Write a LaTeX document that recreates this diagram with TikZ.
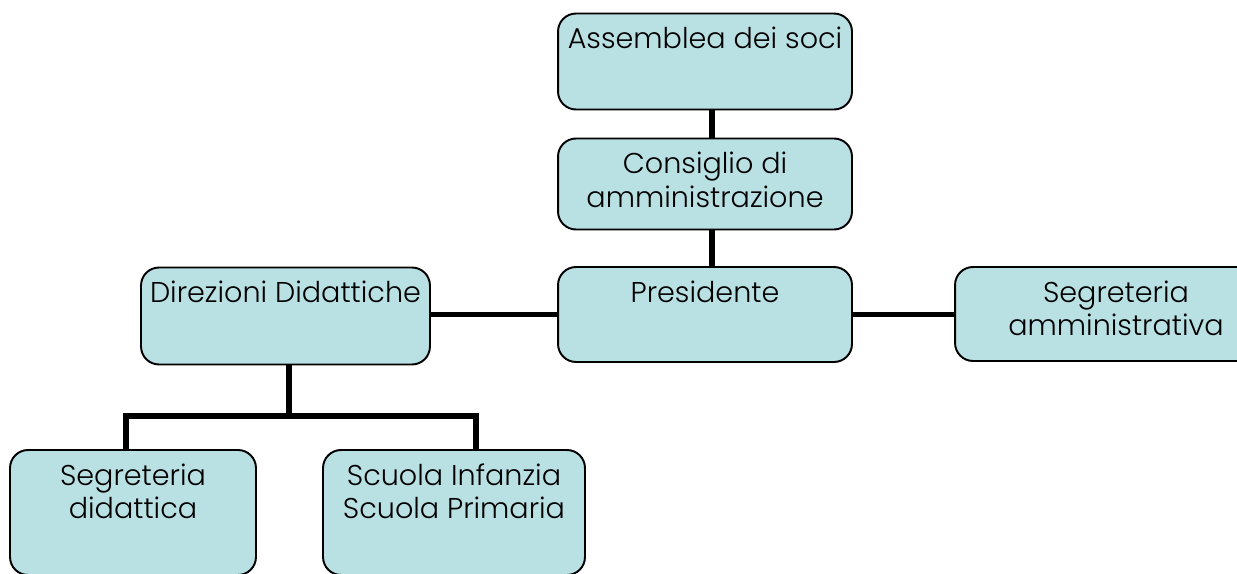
\documentclass[tikz,border=0pt]{standalone}
\usepackage{fontspec}
\IfFontExistsTF{Poppins Light}{\setmainfont{Poppins Light}}{\setmainfont{Poppins}}
\usepackage{tikz}

\begin{document}
\begin{tikzpicture}[x=0.02cm, y=-0.02cm,
	box/.style={draw, line width=1.1pt, rounded corners=0.36cm, fill=boxfill},
	lbl/.style={anchor=north, align=center, inner sep=0.29cm, font=\fontsize{16.3}{19}\selectfont},
	link/.style={line width=2.9pt}]
	  \definecolor{boxfill}{HTML}{B9E0E3}
	  \useasboundingbox (0, 0) rectangle (1237, 574);
	  \node[box, minimum width=5.88cm, minimum height=1.92cm,
	  label={[lbl]north:Assemblea dei soci}] (assemblea) at (705, 61.5) {};
	  \node[box, minimum width=5.88cm, minimum height=1.82cm,
	  label={[lbl]north:Consiglio di\\amministrazione}] (consiglio) at (705, 184) {};
	  \node[box, minimum width=5.88cm, minimum height=1.9cm,
	  label={[lbl]north:Presidente}] (presidente) at (705, 314.5) {};
	  \node[box, minimum width=6.44cm, minimum height=1.88cm,
	  label={[lbl]north:Segreteria\\amministrativa}] (segamm) at (1116, 314) {};
	  \node[box, minimum width=5.78cm, minimum height=1.94cm,
	  label={[lbl]north:Direzioni Didattiche}] (direzioni) at (285.5, 316) {};
	  \node[box, minimum width=4.92cm, minimum height=2.5cm,
	  label={[lbl]north:Segreteria\\didattica}] (segdid) at (133, 512.5) {};
	  \node[box, minimum width=5.24cm, minimum height=2.5cm,
	  label={[lbl]north:Scuola Infanzia\\Scuola Primaria}] (scuola) at (454, 512.5) {};
	  \coordinate (split) at (289, 416);
	  \draw[link]([xshift=0.14cm]assemblea.south) -- ([xshift=0.14cm]consiglio.north);
	  \draw[link]([xshift=0.14cm]consiglio.south) -- ([xshift=0.14cm]presidente.north);
	  \draw[link](presidente.west) -- (presidente.west -| direzioni.east);
	  \draw[link](presidente.east) -- (presidente.east -| segamm.west);
	  \draw[link](direzioni.south -| split) -- (split);
	  \draw[link](split) -| ([xshift=-0.14cm]segdid.north);
	  \draw[link](split) -| ([xshift=0.44cm]scuola.north);
\end{tikzpicture}
\end{document}
